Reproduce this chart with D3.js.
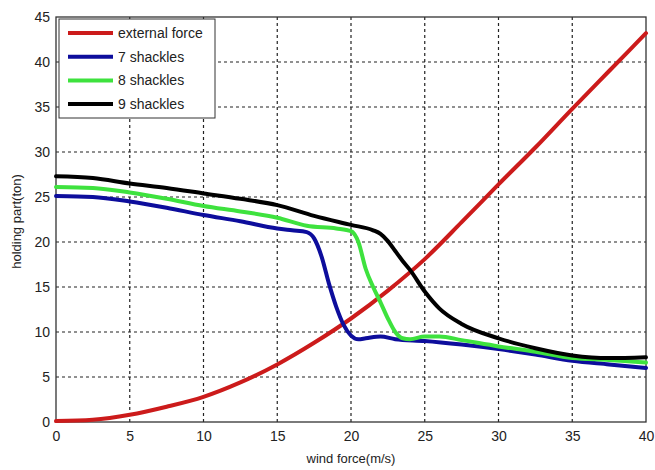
<!DOCTYPE html>
<html>
<head>
<meta charset="utf-8">
<script src="https://cdn.jsdelivr.net/npm/d3@7"></script>
<style>
body { margin:0; background:#fff; }
svg text { font-family: "Liberation Sans", Arial, sans-serif; fill:#222; }
</style>
</head>
<body>
<div id="chart"></div>
<script>
// readings
var forceX = [0, 2.5, 5, 7.5, 10, 12.5, 15, 17.5, 20, 22.5, 25, 27.5, 30, 32.5, 35, 37.5, 40]
var forceY = [0.1, 0.25, 0.8, 1.7, 2.8, 4.4, 6.4, 8.8, 11.5, 14.6, 18.1, 22.2, 26.4, 30.5, 34.8, 39.0, 43.2]

var sh7X = [0, 2.5, 5, 7.5, 10, 12.5, 15, 16, 17, 17.5, 18, 18.5, 19, 19.5, 20, 20.5, 21, 22, 23, 25, 27.5, 30, 32.5, 35, 37.5, 40]
var sh7Y = [25.1, 25.0, 24.5, 23.8, 23.0, 22.3, 21.5, 21.3, 21.1, 20.4, 18.4, 15.4, 12.8, 10.8, 9.6, 9.2, 9.3, 9.5, 9.2, 9.0, 8.6, 8.1, 7.5, 6.8, 6.4, 6.0]

var sh8X = [0, 2.5, 5, 7.5, 10, 12.5, 15, 17, 19, 20, 20.5, 21, 21.5, 22, 22.5, 23, 23.5, 24, 25, 26, 27.5, 30, 32.5, 35, 37.5, 40]
var sh8Y = [26.1, 26.0, 25.5, 24.8, 24.0, 23.4, 22.7, 21.8, 21.5, 21.2, 20.0, 17.0, 15.0, 13.3, 11.5, 10.0, 9.3, 9.2, 9.5, 9.5, 9.1, 8.4, 7.8, 7.1, 6.9, 6.6]

var sh9X = [0, 2.5, 5, 7.5, 10, 12.5, 15, 17.5, 20, 21.5, 22, 22.5, 23, 23.5, 24, 25, 26, 27.5, 30, 32.5, 35, 37.5, 40]
var sh9Y = [27.3, 27.1, 26.5, 26.0, 25.4, 24.8, 24.1, 22.9, 21.9, 21.3, 20.9, 20.1, 19.0, 17.9, 16.9, 14.5, 12.6, 10.9, 9.3, 8.2, 7.4, 7.1, 7.2]

var xTicks = [0, 5, 10, 15, 20, 25, 30, 35, 40]
var yTicks = [0, 5, 10, 15, 20, 25, 30, 35, 40, 45]

var seriesNames = ["external force", "7 shackles", "8 shackles", "9 shackles"]
var seriesColors = ["#cc1b1b", "#0d0d9c", "#3ee23e", "#000000"]

var width = 655, height = 470
var plotL = 56, plotR = 646, plotT = 17, plotB = 422

var svg = d3.select("#chart").append("svg").attr("width", width).attr("height", height)

var x = d3.scaleLinear().domain([0, 40]).range([plotL, plotR])
var y = d3.scaleLinear().domain([0, 45]).range([plotB, plotT])

// grid
svg.append("g").selectAll("line").data(xTicks.slice(1, -1)).enter().append("line")
	.attr("x1", function(d){return x(d)}).attr("x2", function(d){return x(d)})
	.attr("y1", plotT).attr("y2", plotB)
	.attr("stroke", "#222").attr("stroke-width", 1.2).attr("stroke-dasharray", "3,3")
svg.append("g").selectAll("line").data(yTicks.slice(1, -1)).enter().append("line")
	.attr("y1", function(d){return y(d)}).attr("y2", function(d){return y(d)})
	.attr("x1", plotL).attr("x2", plotR)
	.attr("stroke", "#222").attr("stroke-width", 1.2).attr("stroke-dasharray", "3,3")

// axes
var xAxis = svg.append("g").attr("transform", "translate(0," + plotB + ")")
	.call(d3.axisBottom(x).tickValues(xTicks).tickSize(0).tickPadding(9))
var yAxis = svg.append("g").attr("transform", "translate(" + plotL + ",0)")
	.call(d3.axisLeft(y).tickValues(yTicks).tickSize(0).tickPadding(6))
xAxis.select(".domain").remove()
yAxis.select(".domain").remove()
svg.selectAll(".tick text").style("font-size", "14px").attr("fill", "#222")
	.style("font-family", "'Liberation Sans', Arial, sans-serif")

svg.append("rect").attr("x", plotL).attr("y", plotT).attr("width", plotR - plotL).attr("height", plotB - plotT)
	.attr("fill", "none").attr("stroke", "#333").attr("stroke-width", 1.3)

// curves
var line = d3.line().x(function(d){return x(d[0])}).y(function(d){return y(d[1])}).curve(d3.curveMonotoneX)
var xs = [forceX, sh7X, sh8X, sh9X]
var ys = [forceY, sh7Y, sh8Y, sh9Y]
xs.forEach(function(arr, i) {
	var pts = arr.map(function(v, j){return [v, ys[i][j]]})
	svg.append("path").datum(pts).attr("d", line)
		.attr("fill", "none").attr("stroke", seriesColors[i]).attr("stroke-width", 4)
		.attr("stroke-linejoin", "round").attr("stroke-linecap", "round")
})

// legend
var lg = svg.append("g")
lg.append("rect").attr("x", 59).attr("y", 19).attr("width", 156).attr("height", 99)
	.attr("fill", "#fff").attr("stroke", "#333").attr("stroke-width", 1)
seriesNames.forEach(function(name, i) {
	var ly = 33 + i * 23.7
	lg.append("line").attr("x1", 68).attr("x2", 113).attr("y1", ly).attr("y2", ly)
		.attr("stroke", seriesColors[i]).attr("stroke-width", 4)
	lg.append("text").attr("x", 118).attr("y", ly + 5).text(name).style("font-size", "14px")
})

// axis labels
svg.append("text").attr("x", (plotL + plotR) / 2).attr("y", 463).attr("text-anchor", "middle")
	.style("font-size", "13px").text("wind force(m/s)")
svg.append("text").attr("transform", "translate(21," + ((plotT + plotB) / 2 + 2) + ") rotate(-90)")
	.attr("text-anchor", "middle").style("font-size", "13px").text("holding part(ton)")
</script>
</body>
</html>
